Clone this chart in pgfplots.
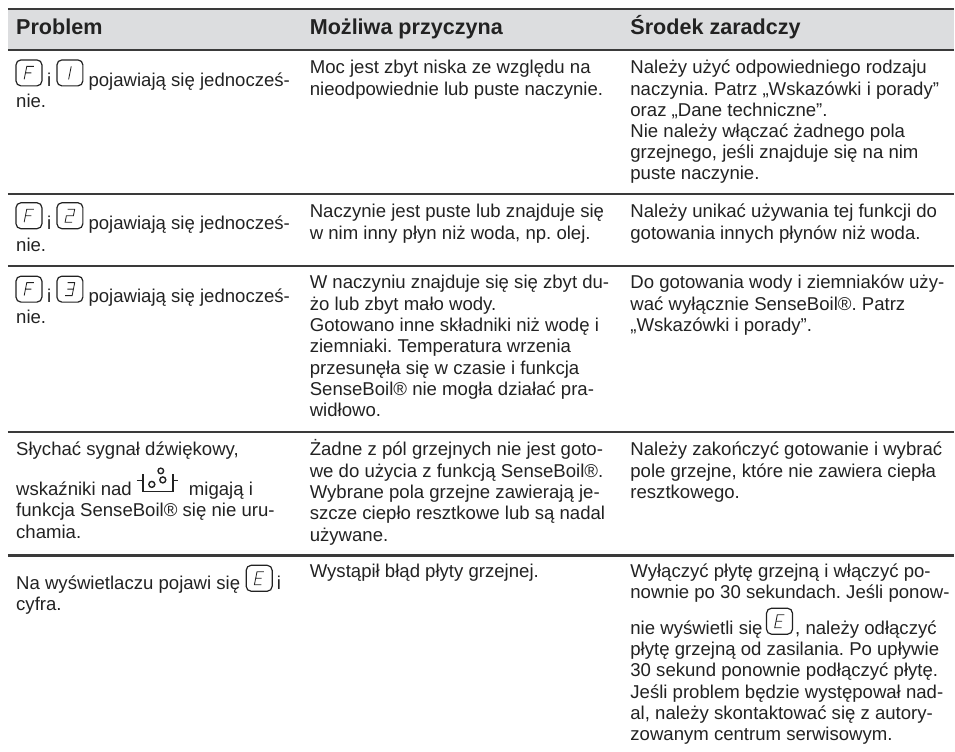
\documentclass[border=0pt]{standalone}
\usepackage{pgfplots}
\pgfplotsset{compat=1.18}
\usepackage{fontspec}
\setmainfont{Liberation Sans}
\definecolor{tx}{HTML}{222222}
\definecolor{band}{HTML}{DCDDDF}
\definecolor{rule}{HTML}{3A3A3A}
\newcommand\T[3]{\node[anchor=base west,inner sep=0pt,text=tx,font=\fontsize{18.6}{21}\selectfont] at (axis cs:#1,#2) {#3};}
\newcommand\B[3]{\node[anchor=base west,inner sep=0pt,text=tx,font=\fontsize{21.6}{24}\selectfont\bfseries] at (axis cs:#1,#2) {#3};}
\newcommand\Ic[3]{\draw[tx,line width=1.2pt,rounded corners=5pt] (axis cs:#1,#2) ++(-13pt,-13pt) rectangle ++(26pt,26pt);
  \begin{scope}[shift={(axis cs:#1,#2)},x=1pt,y=1pt,xslant=.2]\draw[tx,line width=.85pt] #3;\end{scope}}
\newcommand\sF{(3.5,6.5)--(-3.5,6.5)--(-3.5,-6.5) (-3.5,0)--(2.5,0)}
\newcommand\sO{(0,6.5)--(0,-6.5)}
\newcommand\sT{(-3.5,6.5)--(3.5,6.5)--(3.5,0)--(-3.5,0)--(-3.5,-6.5)--(3.5,-6.5)}
\newcommand\sH{(-3.5,6.5)--(3.5,6.5)--(3.5,-6.5)--(-3.5,-6.5) (-2.5,0)--(3.5,0)}
\newcommand\sE{(3.5,6.5)--(-3.5,6.5)--(-3.5,-6.5)--(3.5,-6.5) (-3.5,0)--(2.5,0)}
\begin{document}
\frenchspacing
\begin{tikzpicture}
\begin{axis}[hide axis,scale only axis,width=955pt,height=752pt,xmin=0,xmax=955,ymin=0,ymax=752,y dir=reverse,clip=false]
\addplot[fill=band,draw=none] coordinates {(8,9) (955,9) (955,50) (8,50)} --cycle;
\addplot[rule,line width=1.6pt] coordinates {(8,9) (955,9)};
\addplot[rule,line width=2pt] coordinates {(8,50) (955,50)};
\addplot[rule,line width=2pt] coordinates {(8,194) (955,194)};
\addplot[rule,line width=2pt] coordinates {(8,266) (955,266)};
\addplot[rule,line width=2pt] coordinates {(8,432.5) (955,432.5)};
\addplot[rule,line width=2.4pt] coordinates {(8,556) (955,556)};
\pgfplotsextra{
\path (axis cs:0,0) rectangle (axis cs:955,752);
\B{16}{35}{Problem}\B{310}{35}{Możliwa przyczyna}\B{631}{35}{Środek zaradczy}
% row 1
\Ic{29}{73}{\sF}\Ic{70}{73}{\sO}
\T{47}{87}{i}\T{88.5}{87}{pojawiają się jednocześ-}\T{16}{108}{nie.}
\T{310}{74}{Moc jest zbyt niska ze względu na}\T{310}{95.3}{nieodpowiednie lub puste naczynie.}
\T{631}{74}{Należy użyć odpowiedniego rodzaju}
\T{631}{95.3}{naczynia. Patrz „Wskazówki i porady”}
\T{631}{116.5}{oraz „Dane techniczne”.}
\T{631}{137.7}{Nie należy włączać żadnego pola}
\T{631}{159}{grzejnego, jeśli znajduje się na nim}
\T{631}{180}{puste naczynie.}
% row 2
\Ic{29}{216}{\sF}\Ic{70}{216}{\sT}
\T{47}{230}{i}\T{88.5}{230}{pojawiają się jednocześ-}\T{16}{252}{nie.}
\T{310}{218}{Naczynie jest puste lub znajduje się}\T{310}{239.3}{w nim inny płyn niż woda, np. olej.}
\T{631}{218}{Należy unikać używania tej funkcji do}\T{631}{239.3}{gotowania innych płynów niż woda.}
% row 3
\Ic{29}{289.5}{\sF}\Ic{70}{289.5}{\sH}
\T{47}{303}{i}\T{88.5}{303}{pojawiają się jednocześ-}\T{16}{324}{nie.}
\T{310}{289}{W naczyniu znajduje się się zbyt du-}
\T{310}{310.4}{żo lub zbyt mało wody.}
\T{310}{331.8}{Gotowano inne składniki niż wodę i}
\T{310}{353.2}{ziemniaki. Temperatura wrzenia}
\T{310}{374.6}{przesunęła się w czasie i funkcja}
\T{310}{396}{SenseBoil® nie mogła działać pra-}
\T{310}{417.4}{widłowo.}
\T{631}{289}{Do gotowania wody i ziemniaków uży-}
\T{631}{310.4}{wać wyłącznie SenseBoil®. Patrz}
\T{631}{331.8}{„Wskazówki i porady”.}
% row 4
\T{16}{456}{Słychać sygnał dźwiękowy,}
\T{16}{496.5}{wskaźniki nad}\T{189}{496.5}{migają i}
\T{16}{517.5}{funkcja SenseBoil® się nie uru-}
\T{16}{539}{chamia.}
\draw[tx,line width=1.6pt] (axis cs:143,475)--(axis cs:143,492)--(axis cs:173,492)--(axis cs:173,475);
\draw[tx,line width=1.6pt] (axis cs:137,481)--(axis cs:143,481) (axis cs:173,481)--(axis cs:178,481);
\draw[tx,line width=1.4pt] (axis cs:152,485) circle (3pt) (axis cs:163,480.5) circle (3pt) (axis cs:161,471.5) circle (2.8pt);
\T{310}{456.5}{Żadne z pól grzejnych nie jest goto-}
\T{310}{477.8}{we do użycia z funkcją SenseBoil®.}
\T{310}{499}{Wybrane pola grzejne zawierają je-}
\T{310}{520.5}{szcze ciepło resztkowe lub są nadal}
\T{310}{541.7}{używane.}
\T{631}{456.5}{Należy zakończyć gotowanie i wybrać}
\T{631}{477.8}{pole grzejne, które nie zawiera ciepła}
\T{631}{499}{resztkowego.}
% row 5
\T{16}{590}{Na wyświetlaczu pojawi się}\Ic{259.5}{579}{\sE}\T{277}{590}{i}
\T{16}{611.5}{cyfra.}
\T{310}{578}{Wystąpił błąd płyty grzejnej.}
\T{631}{578}{Wyłączyć płytę grzejną i włączyć po-}
\T{631}{599.3}{nownie po 30 sekundach. Jeśli ponow-}
\T{631}{635}{nie wyświetli się}\Ic{780.5}{622}{\sE}\T{796}{635}{, należy odłączyć}
\T{631}{656.3}{płytę grzejną od zasilania. Po upływie}
\T{631}{677.6}{30 sekund ponownie podłączyć płytę.}
\T{631}{699}{Jeśli problem będzie występował nad-}
\T{631}{720}{al, należy skontaktować się z autory-}
\T{631}{741.5}{zowanym centrum serwisowym.}
}
\end{axis}
\end{tikzpicture}
\end{document}
